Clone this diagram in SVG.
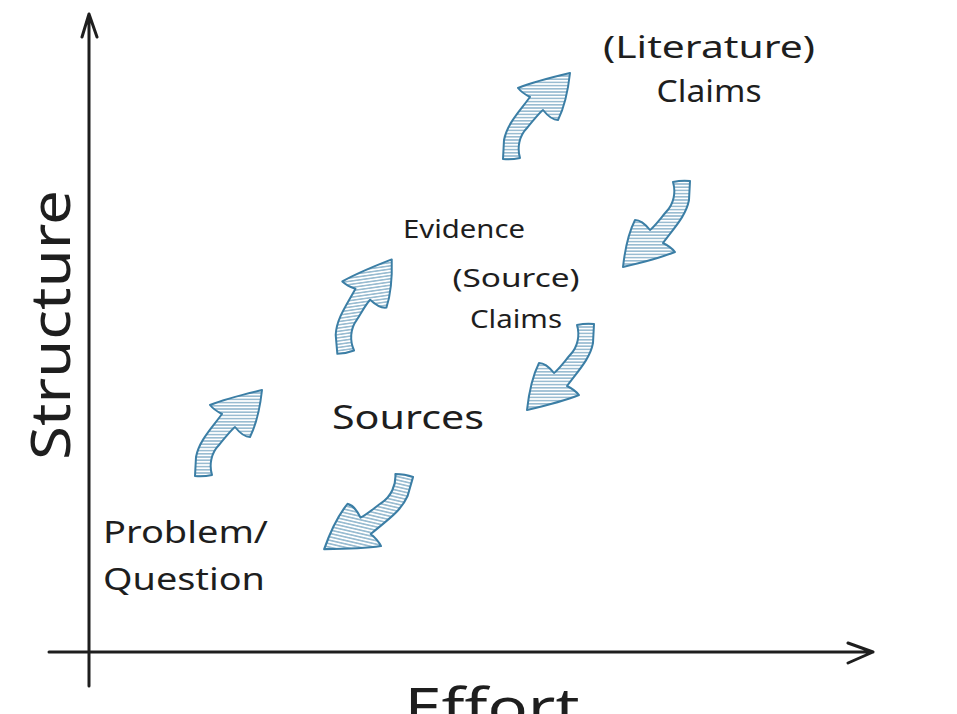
<svg xmlns="http://www.w3.org/2000/svg" width="957" height="714" viewBox="0 0 957 714">
<style>
.axis{fill:none;stroke:#1e1e1e;stroke-width:3;stroke-linecap:round;stroke-linejoin:round}
.lbl{font-family:"Noto Sans","DejaVu Sans",sans-serif;fill:#1e1e1e}
.arr{fill:url(#hatch);stroke:#3b7ea5;stroke-width:2;stroke-linejoin:round}
</style>
<defs>
<pattern id="hatch" patternUnits="userSpaceOnUse" width="8" height="3.2">
<rect width="8" height="3.2" fill="#ffffff"/>
<line x1="0" y1="1.6" x2="8" y2="1.6" stroke="#4a88ad" stroke-width="0.9"/>
</pattern>
<path id="arrowShape" d="M29,-43 C12,-39 -8,-34 -23,-28 Q-19,-23 -11,-19 C-22,-4 -34,8 -37,24 L-38,43 Q-30,44 -21,42 C-24,32 -22,20 -14,12 C-8,5 -3,-2 2,-6 Q10,4 17,4 C24,-10 27,-25 29,-43 Z"/>
</defs>
<rect width="957" height="714" fill="#ffffff"/>
<g id="axes">
<path class="axis" d="M89,686 L89,15 M82,37 L89,14 L97,37"/>
<path class="axis" d="M49,652 L873,652 M848,643 L873,652 L848,663"/>
</g>
<g id="connectors">
<use href="#arrowShape" class="arr" transform="translate(233,433)"/>
<use href="#arrowShape" class="arr" transform="translate(369,306) rotate(-8)"/>
<use href="#arrowShape" class="arr" transform="translate(541,116)"/>
<use href="#arrowShape" class="arr" transform="translate(652,224) rotate(180)"/>
<use href="#arrowShape" class="arr" transform="translate(556,367) rotate(180)"/>
<use href="#arrowShape" class="arr" transform="translate(364,512) rotate(193) scale(1.05)"/>
</g>
<g id="structure-label"><text class="lbl" font-size="54" x="0" y="0" textLength="270" lengthAdjust="spacingAndGlyphs" text-anchor="middle" transform="translate(70,325) rotate(-90)">Structure</text></g>
<g id="effort-label"><text class="lbl" font-size="52" x="492" y="726" textLength="175" lengthAdjust="spacingAndGlyphs" text-anchor="middle">Effort</text></g>
<g id="literature-claims"><text class="lbl" font-size="31" text-anchor="middle"><tspan x="709" y="58" textLength="212" lengthAdjust="spacingAndGlyphs">(Literature)</tspan><tspan x="709" y="102" textLength="105" lengthAdjust="spacingAndGlyphs">Claims</tspan></text></g>
<g id="evidence"><text class="lbl" font-size="25" x="464" y="238" textLength="122" lengthAdjust="spacingAndGlyphs" text-anchor="middle">Evidence</text></g>
<g id="source-claims"><text class="lbl" font-size="25" text-anchor="middle"><tspan x="516" y="287" textLength="127" lengthAdjust="spacingAndGlyphs">(Source)</tspan><tspan x="516" y="328" textLength="92" lengthAdjust="spacingAndGlyphs">Claims</tspan></text></g>
<g id="sources"><text class="lbl" font-size="33" x="408" y="429" textLength="152" lengthAdjust="spacingAndGlyphs" text-anchor="middle">Sources</text></g>
<g id="problem-question"><text class="lbl" font-size="31"><tspan x="103" y="543" textLength="165" lengthAdjust="spacingAndGlyphs">Problem/</tspan><tspan x="103" y="590" textLength="162" lengthAdjust="spacingAndGlyphs">Question</tspan></text></g>
</svg>
